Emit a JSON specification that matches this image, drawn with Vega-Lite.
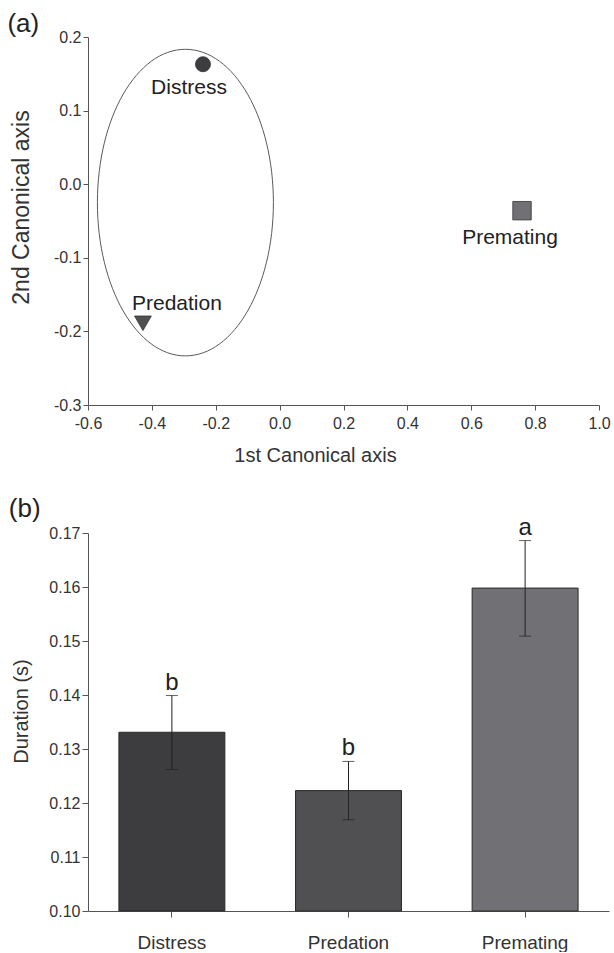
{
  "$schema": "https://vega.github.io/schema/vega-lite/v6.json",
  "background": "white",
  "padding": {"left": 7, "top": 11, "right": 0, "bottom": 0},
  "spacing": 30,
  "align": "none",
  "config": {
    "view": {"stroke": null},
    "font": "Liberation Sans",
    "axis": {"grid": false, "domainColor": "#555555", "tickColor": "#555555", "labelColor": "#333333", "titleColor": "#333333", "labelFont": "Liberation Sans", "titleFont": "Liberation Sans", "titleFontWeight": "normal", "labelFlush": false, "labelOverlap": false, "labelBound": false},
    "title": {"font": "Liberation Sans", "fontWeight": "normal", "color": "#222222", "fontSize": 26, "anchor": "start", "frame": "bounds", "baseline": "alphabetic"}
  },
  "vconcat": [
    {
      "width": 511,
      "height": 368,
      "title": {"text": "(a)", "offset": -8, "dx": -3},
      "layer": [
        {
          "data": {"values": [{"cx": -0.295, "cy": -0.025}]},
          "mark": {"type": "point", "shape": "M -0.574 0 A 0.574 1 0 1 0 0.574 0 A 0.574 1 0 1 0 -0.574 0 Z", "size": 94000, "filled": false, "stroke": "#5a5a5a", "strokeWidth": 1, "opacity": 1},
          "encoding": {
            "x": {"field": "cx", "type": "quantitative", "scale": {"domain": [-0.6, 1.0], "nice": false, "zero": false},
              "axis": {"values": [-0.6, -0.4, -0.2, 0, 0.2, 0.4, 0.6, 0.8, 1.0], "format": ".1f", "labelExpr": "replace(datum.label, '−', '-')", "title": "1st Canonical axis", "titleFontSize": 20, "labelFontSize": 16, "tickSize": 5, "labelPadding": 5, "titlePadding": 14, "titleX": 227}},
            "y": {"field": "cy", "type": "quantitative", "scale": {"domain": [-0.3, 0.2], "nice": false, "zero": false},
              "axis": {"values": [-0.3, -0.2, -0.1, 0, 0.1, 0.2], "format": ".1f", "labelExpr": "replace(datum.label, '−', '-')", "title": "2nd Canonical axis", "titleFontSize": 23, "labelFontSize": 16, "tickSize": 5, "labelPadding": 2, "titlePadding": 20, "titleY": 170}}
          }
        },
        {
          "data": {"name": "pts", "values": [
            {"stimulus": "Distress", "x": -0.240, "y": 0.163},
            {"stimulus": "Predation", "x": -0.428, "y": -0.189},
            {"stimulus": "Premating", "x": 0.759, "y": -0.036}
          ]},
          "layer": [
            {
              "mark": {"type": "point", "filled": true, "stroke": "#333333", "strokeWidth": 0.8, "opacity": 1},
              "encoding": {
                "x": {"field": "x", "type": "quantitative"},
                "y": {"field": "y", "type": "quantitative"},
                "shape": {"field": "stimulus", "type": "nominal", "scale": {"domain": ["Distress", "Predation", "Premating"], "range": ["circle", "triangle-down", "square"]}, "legend": null},
                "size": {"field": "stimulus", "type": "nominal", "scale": {"domain": ["Distress", "Predation", "Premating"], "range": [227, 340, 256]}, "legend": null},
                "fill": {"field": "stimulus", "type": "nominal", "scale": {"domain": ["Distress", "Predation", "Premating"], "range": ["#3d3d40", "#505053", "#717175"]}, "legend": null}
              }
            },
            {
              "transform": [{"filter": "datum.stimulus === 'Distress'"}],
              "mark": {"type": "text", "fontSize": 21, "color": "#222222", "align": "center", "baseline": "alphabetic", "dx": -14, "dy": 30},
              "encoding": {"x": {"field": "x", "type": "quantitative"}, "y": {"field": "y", "type": "quantitative"}, "text": {"field": "stimulus"}}
            },
            {
              "transform": [{"filter": "datum.stimulus === 'Predation'"}],
              "mark": {"type": "text", "fontSize": 21, "color": "#222222", "align": "center", "baseline": "alphabetic", "dx": 34, "dy": -13},
              "encoding": {"x": {"field": "x", "type": "quantitative"}, "y": {"field": "y", "type": "quantitative"}, "text": {"field": "stimulus"}}
            },
            {
              "transform": [{"filter": "datum.stimulus === 'Premating'"}],
              "mark": {"type": "text", "fontSize": 21, "color": "#222222", "align": "center", "baseline": "alphabetic", "dx": -12, "dy": 33},
              "encoding": {"x": {"field": "x", "type": "quantitative"}, "y": {"field": "y", "type": "quantitative"}, "text": {"field": "stimulus"}}
            }
          ]
        }
      ]
    },
    {
      "width": 521,
      "height": 378,
      "title": {"text": "(b)", "offset": -6, "dx": -3},
      "data": {"values": [
        {"stimulus": "Distress", "mean": 0.1331, "lo": 0.1262, "hi": 0.1399, "sig": "b"},
        {"stimulus": "Predation", "mean": 0.1223, "lo": 0.1169, "hi": 0.1277, "sig": "b"},
        {"stimulus": "Premating", "mean": 0.1598, "lo": 0.1509, "hi": 0.1686, "sig": "a"}
      ]},
      "encoding": {
        "x": {"field": "stimulus", "type": "nominal", "sort": null, "scale": {"paddingInner": 0.4, "paddingOuter": 0.175},
          "axis": {"labelAngle": 0, "title": null, "labelFontSize": 19, "tickSize": 6, "labelPadding": 16}}
      },
      "layer": [
        {
          "mark": {"type": "bar", "stroke": "#2a2a2a", "strokeWidth": 1},
          "encoding": {
            "y": {"field": "mean", "type": "quantitative", "scale": {"domain": [0.1, 0.17], "nice": false, "zero": false},
              "axis": {"values": [0.10, 0.11, 0.12, 0.13, 0.14, 0.15, 0.16, 0.17], "format": ".2f", "title": "Duration (s)", "titleFontSize": 20, "labelFontSize": 16, "tickSize": 6, "labelPadding": 2, "titlePadding": 17, "titleY": 178}},
            "y2": {"datum": 0.1},
            "fill": {"field": "stimulus", "type": "nominal", "scale": {"domain": ["Distress", "Predation", "Premating"], "range": ["#434346", "#5d5d60", "#78787c"]}, "legend": null}
          }
        },
        {
          "mark": {"type": "rule", "color": "#222222", "strokeWidth": 1},
          "encoding": {"y": {"field": "lo", "type": "quantitative"}, "y2": {"field": "hi"}}
        },
        {
          "mark": {"type": "tick", "color": "#222222", "size": 12, "thickness": 1},
          "encoding": {"y": {"field": "lo", "type": "quantitative"}}
        },
        {
          "mark": {"type": "tick", "color": "#222222", "size": 12, "thickness": 1},
          "encoding": {"y": {"field": "hi", "type": "quantitative"}}
        },
        {
          "mark": {"type": "text", "fontSize": 24, "color": "#222222", "baseline": "alphabetic", "dy": -6},
          "encoding": {"y": {"field": "hi", "type": "quantitative"}, "text": {"field": "sig"}}
        }
      ]
    }
  ]
}
